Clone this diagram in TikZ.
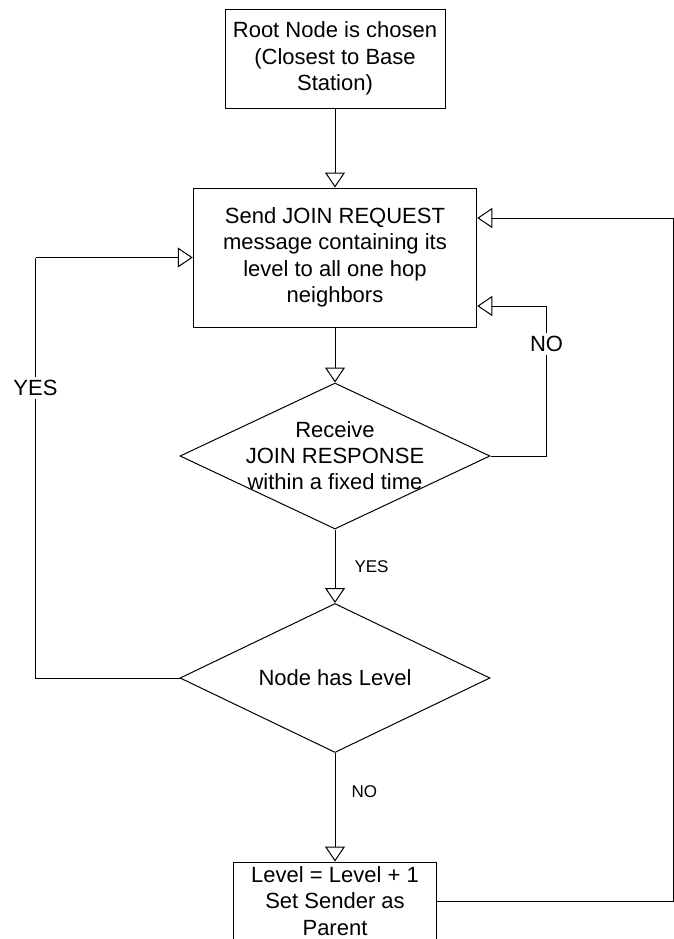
\documentclass[tikz,border=0pt]{standalone}
\usepackage{fontspec}
\setmainfont{Liberation Sans}
\usetikzlibrary{positioning,shapes.geometric,arrows.meta}

\begin{document}
\begin{tikzpicture}[-{Triangle[open,width=10pt,length=7.5pt]}, on grid, line width=0.5pt,
    process/.style={draw, arrows=-, rectangle, align=center, inner sep=0pt, font=\fontsize{11}{13.25}\selectfont},
    decision/.style={draw, arrows=-, diamond, inner sep=0pt, minimum width=155pt},
    answer/.style={arrows=-, font=\fontsize{8.5}{10}\selectfont, inner sep=0pt},
    loopanswer/.style={arrows=-, fill=white, font=\fontsize{11}{13}\selectfont, inner sep=1.5pt}]
\useasboundingbox (0,0) rectangle (337pt,-469.5pt);
\node[process, minimum width=110pt, minimum height=49.5pt] (root) at (167.5pt,-29.25pt) {Root Node is chosen\\(Closest to Base\\Station)};
\node[process, minimum width=141.75pt, minimum height=69.5pt] (send) [below=99.5pt of root] {Send JOIN REQUEST\\message containing its\\level to all one hop\\neighbors};
\node[decision, minimum height=73pt, label={[align=center, font=\fontsize{11}{13}\selectfont]center:Receive\\JOIN RESPONSE\\within a fixed time}] (recv) [below=99.25pt of send] {};
\node[decision, minimum height=74.5pt, label={[font=\fontsize{11}{13}\selectfont]center:Node has Level}] (check) [below=111pt of recv] {};
\node[process, minimum width=101.5pt, minimum height=39pt] (update) [below=111.5pt of check] {Level = Level + 1\\Set Sender as\\Parent};
\coordinate (noin) at ([yshift=-24.25pt]send.east);
\coordinate (backin) at ([yshift=19.75pt]send.east);
\coordinate (noturn) at ([xshift=28pt]recv.east);
\coordinate (noup) at (noturn |- noin);
\coordinate (yesturn) at ([xshift=-72pt]check.west);
\coordinate (yesup) at (yesturn |- send.west);
\coordinate (backturn) at ([xshift=118.25pt]update.east);
\coordinate (backup) at (backturn |- backin);
\path (root) edge (send);
\path (send) edge (recv);
\path (recv) edge node[answer, anchor=west, xshift=9.5pt] {YES} (check);
\path (check) edge node[answer, anchor=west, xshift=8pt, pos=0.36] {NO} (update);
\draw[-] (recv.east) -- (noturn) -- node[loopanswer, pos=0.747] {NO} (noup);
\path (noup) edge (noin);
\draw[-] (check.west) -- (yesturn) -- node[loopanswer, pos=0.689] {YES} (yesup);
\path (yesup) edge (send.west);
\draw[-] (update.east) -- (backturn) -- (backup);
\path (backup) edge (backin);
\end{tikzpicture}
\end{document}
